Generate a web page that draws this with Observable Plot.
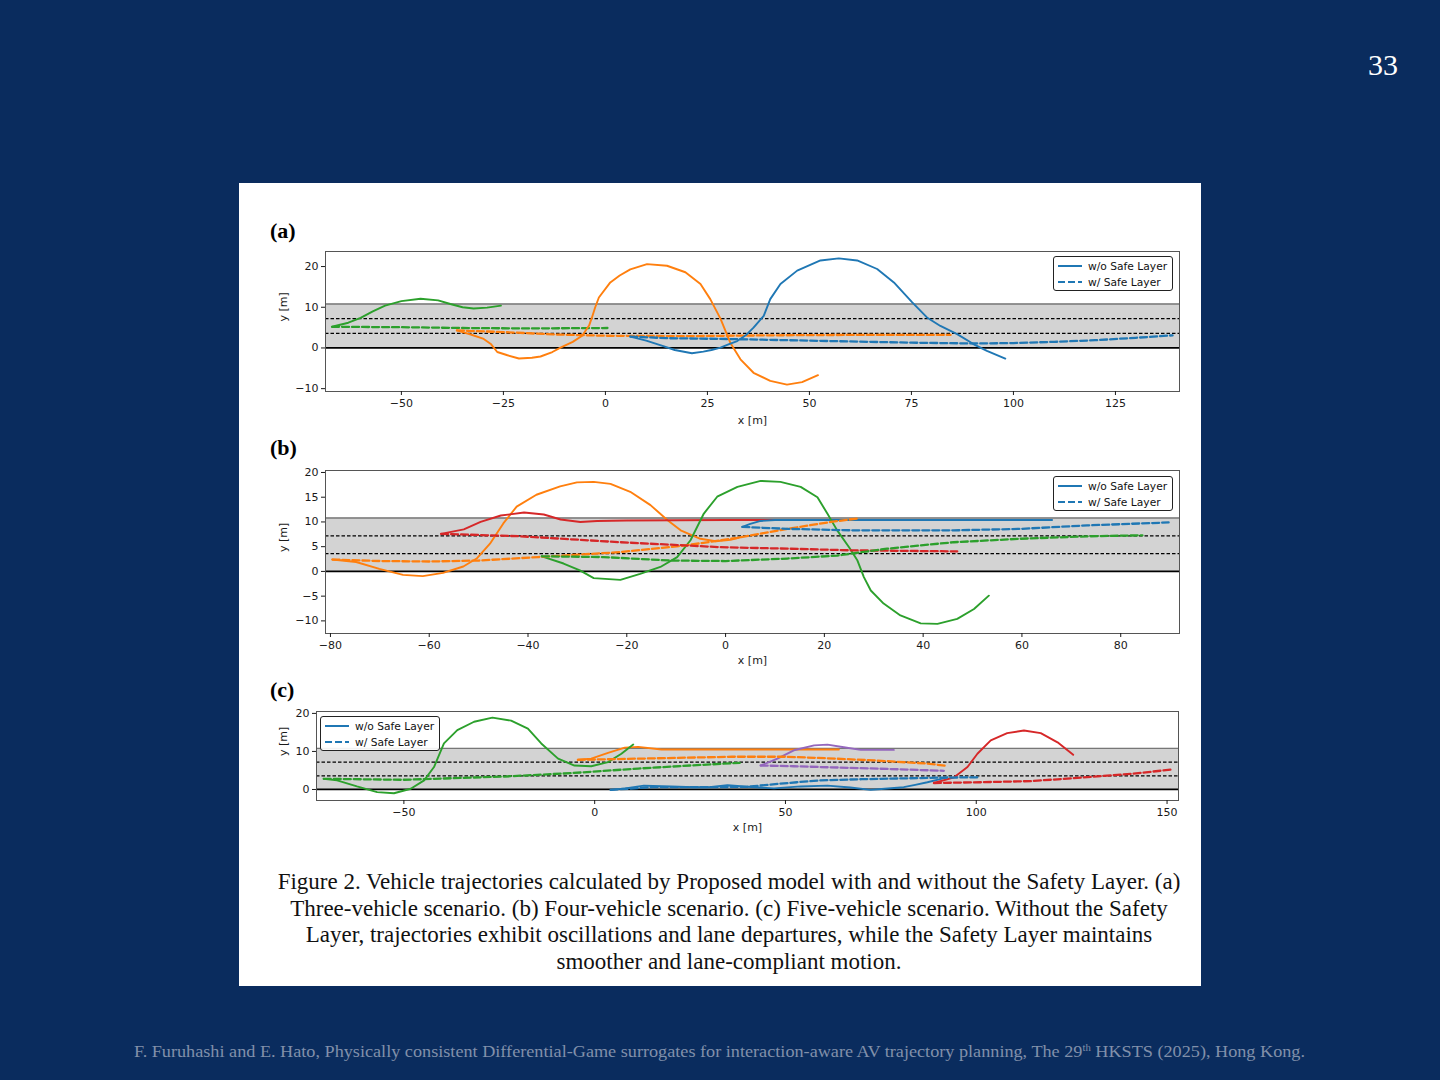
<!DOCTYPE html>
<html><head><meta charset="utf-8">
<script src="https://cdn.jsdelivr.net/npm/d3@7"></script>
<script src="https://cdn.jsdelivr.net/npm/@observablehq/plot@0.6"></script>
<style>
html,body{margin:0;padding:0;}
body{width:1440px;height:1080px;background:#0a2c5e;position:relative;overflow:hidden;font-family:"Liberation Serif","Times New Roman",serif;}
.abs{position:absolute;}
.plab{position:absolute;left:270px;font-weight:bold;font-size:22px;line-height:22px;color:#000;}
.legend{position:absolute;background:rgba(255,255,255,0.9);border:1px solid #222;border-radius:3px;box-sizing:border-box;font-family:"DejaVu Sans",sans-serif;font-size:10.7px;color:#111;}
.legend .row{position:absolute;left:0;height:14px;display:flex;align-items:center;white-space:nowrap;}
.legend svg{display:block;margin-left:4px;margin-right:6px;}
#caption{position:absolute;left:239px;top:869px;width:980px;font-size:23px;line-height:26.7px;text-align:center;color:#111;white-space:nowrap;}
</style></head><body>
<div class="abs" style="left:239px;top:183px;width:962px;height:803px;background:#fff"></div>
<div class="abs" style="left:1360px;top:47px;width:46px;text-align:center;font-size:30px;line-height:36px;color:#fff">33</div>
<div class="plab" style="top:220px">(a)</div>
<div class="plab" style="top:437px">(b)</div>
<div class="plab" style="top:679px">(c)</div>
<div id="pa" class="abs" style="left:270px;top:240px"></div>
<div id="pb" class="abs" style="left:270px;top:460px"></div>
<div id="pc" class="abs" style="left:270px;top:700px"></div>
<div id="caption">Figure 2. Vehicle trajectories calculated by Proposed model with and without the Safety Layer. (a)<br>Three-vehicle scenario. (b) Four-vehicle scenario. (c) Five-vehicle scenario. Without the Safety<br>Layer, trajectories exhibit oscillations and lane departures, while the Safety Layer maintains<br>smoother and lane-compliant motion.</div>
<svg class="abs" style="left:0;top:1038px" width="1440" height="28">
<text x="134" y="19" textLength="1171" lengthAdjust="spacingAndGlyphs" font-family="Liberation Serif, serif" font-size="17" fill="#8190aa">F. Furuhashi and E. Hato, Physically consistent  Differential-Game surrogates for interaction-aware AV trajectory planning, The 29<tspan font-size="10" dy="-6">th</tspan><tspan dy="6"> HKSTS (2025), Hong Kong.</tspan></text>
</svg>
<script>
// ---- colours (matplotlib tab10) ----
const C_BLUE = "#1f77b4", C_ORANGE = "#ff7f0e", C_GREEN = "#2ca02c", C_RED = "#d62728", C_PURPLE = "#9467bd";
// ---- lane boundaries [m] ----
const lanes = [0, 3.6, 7.2, 10.8];
const legendLabels = ["w/o Safe Layer", "w/ Safe Layer"];

// ---- panel (a): three vehicles ----
const aXTicks = [-50, -25, 0, 25, 50, 75, 100, 125];
const aYTicks = [-10, 0, 10, 20];
const aGreenSolid = [[-67,5.2],[-63,6.2],[-60,7.4],[-57,9],[-54,10.4],[-50,11.5],[-45.3,12.1],[-41,11.7],[-38,10.8],[-35,10],[-32.3,9.7],[-29,9.9],[-25.6,10.4]];
const aGreenDash = [[-67,5.2],[-50,5.1],[-35,4.9],[-20,4.8],[0.5,4.9]];
const aOrangeSolid = [[-36.4,4.3],[-33,3.3],[-30,2.3],[-28,0.9],[-26.5,-1.0],[-24,-1.8],[-21.2,-2.6],[-18,-2.4],[-15.9,-2.1],[-13,-1],[-11,0.1],[-8,1.5],[-5.7,3],[-4,5.5],[-3.3,7.5],[-2.5,10],[-1.6,12.4],[1.2,16.1],[3.5,17.8],[6.1,19.3],[10.2,20.6],[15.1,20.2],[19.6,18.6],[23.3,15.7],[25.7,12],[28.2,7.2],[30.6,1.3],[33.1,-2.8],[36.3,-6.1],[40.4,-8.1],[44.5,-9.0],[48.2,-8.4],[52.1,-6.7]];
const aOrangeDash = [[-36.4,4.3],[-25,3.9],[-12,3.3],[0,3.0],[20,2.9],[40,3.1],[60,3.2],[84.6,3.2]];
const aBlueSolid = [[6.1,2.8],[10,1.8],[14,0.5],[17,-0.5],[21.2,-1.3],[24,-0.9],[26,-0.5],[28.2,0.1],[30,0.8],[32.3,1.7],[34.5,3.2],[36.3,5],[38.8,7.9],[40.4,12],[42.9,15.7],[47,19],[52.7,21.5],[57.2,22],[61.7,21.5],[66.6,19.4],[70.7,16.1],[75.2,11.2],[78.8,7.5],[82.1,5.4],[86.2,3.4],[90.3,0.9],[93.5,-0.7],[98,-2.6]];
const aBlueDash = [[6.1,2.8],[15,2.4],[30,2.2],[45,1.9],[60,1.6],[75,1.3],[90,1.1],[100,1.2],[110,1.5],[120,1.9],[130,2.5],[139,3.1]];

// ---- panel (b): four vehicles ----
const bXTicks = [-80, -60, -40, -20, 0, 20, 40, 60, 80];
const bYTicks = [-10, -5, 0, 5, 10, 15, 20];
const bOrangeSolid = [[-79.6,2.4],[-74.8,1.9],[-70.1,0.5],[-65.3,-0.7],[-61.3,-0.95],[-57.2,-0.3],[-53.1,1.0],[-50.4,2.6],[-47.7,5.6],[-45,9.7],[-42.3,13.1],[-38.3,15.5],[-33.5,17.2],[-30.1,18.0],[-26.7,18.1],[-23.3,17.7],[-19.3,16.1],[-15.2,13.4],[-11.8,10.4],[-9.1,8.3],[-5.1,6.6],[-2,6.1],[1,6.4],[3,6.9]];
const bOrangeDash = [[-79.6,2.4],[-70,2.1],[-60,2.0],[-50,2.2],[-38,2.9],[-21.3,3.9],[-7.8,5.3],[2.4,6.8],[12.5,8.6],[21.3,10],[26.7,10.7]];
const bRedSolid = [[-57.6,7.6],[-53,8.5],[-49.6,10],[-45.5,11.3],[-40.8,11.9],[-36.8,11.5],[-33.4,10.5],[-29.4,10.0],[-26,10.2],[-20,10.3],[0,10.4],[27.3,10.4]];
const bRedDash = [[-57.6,7.6],[-41.5,7.1],[-21.3,5.9],[-1,4.9],[12.5,4.6],[26,4.25],[46.9,4.05]];
const bBlueSolid = [[3.4,9.0],[5,9.6],[7.1,10.2],[10,10.4],[30,10.4],[50,10.4],[66.1,10.4]];
const bBlueDash = [[3.4,9.0],[12.5,8.6],[26,8.3],[46.2,8.3],[59.7,8.6],[73.2,9.3],[89.7,9.9]];
const bGreenSolid = [[-37.2,3.05],[-32.8,1.6],[-29.5,0.2],[-26.7,-1.35],[-21.3,-1.7],[-17.3,-0.5],[-13.2,0.9],[-9.8,2.9],[-7.1,6.3],[-4.4,11.7],[-1.7,15.1],[2.4,17.1],[7.1,18.3],[11.1,18.1],[15.2,17.1],[18.6,15.0],[20.6,11.7],[22.6,8.3],[25,4.9],[26.7,2.2],[28,-1.15],[29.4,-3.85],[32,-6.5],[35.4,-8.9],[39.5,-10.5],[42.9,-10.6],[46.9,-9.6],[50.3,-7.6],[53.3,-4.9]];
const bGreenDash = [[-37.2,3.05],[-24.7,2.9],[-11.2,2.2],[0,2.1],[12.5,2.6],[22.6,3.2],[32.7,4.6],[46.2,5.9],[59.7,6.6],[73.2,7.1],[84.4,7.3]];

// ---- panel (c): five vehicles ----
const cXTicks = [-50, 0, 50, 100, 150];
const cYTicks = [0, 10, 20];
const cGreenSolid = [[-71,2.8],[-67.5,2.4],[-62.3,0.8],[-57,-0.7],[-52.6,-1.0],[-48.2,0.2],[-44.7,2.4],[-42.1,5.9],[-39.5,12.1],[-36,15.6],[-31.6,17.8],[-26.8,18.9],[-21.9,18.1],[-17.5,16],[-14,12.1],[-9.6,8.1],[-5.3,6.3],[-0.9,6.1],[3.5,7.2],[7,9.4],[10.1,11.8]];
const cGreenDash = [[-71,2.8],[-50,2.55],[-23.7,3.4],[-6.1,4.3],[11.4,5.5],[25,6.3],[38,7.0]];
const cOrangeSolid = [[-4.4,7.8],[-0.9,8.1],[3.5,9.6],[7.9,11.0],[11.4,11.2],[17.5,10.5],[36,10.5],[64,10.5]];
const cOrangeDash = [[-4.4,7.8],[11.4,8.1],[36,8.6],[50,8.6],[61,8.2],[74,7.6],[87.2,6.8],[92.4,6.2]];
const cPurpleSolid = [[43.5,6.3],[47.9,8.1],[52.2,10.3],[57.5,11.6],[61,11.8],[65.3,11.1],[69.7,10.4],[78.4,10.4]];
const cPurpleDash = [[43.5,6.3],[52.2,6.1],[69.7,5.6],[80,5.3],[91.5,4.9]];
const cBlueSolid = [[4.2,-0.1],[8,0.3],[12.9,1.0],[20,0.8],[26,0.6],[30,0.6],[34.8,1.1],[40,0.7],[47,0.3],[54,0.8],[61,1.0],[67,0.5],[72.3,-0.1],[76,0.2],[81,0.6],[84,1.2],[87.2,1.9],[90,2.6],[92.4,3.2]];
const cBlueDash = [[4.2,-0.1],[15,0.6],[30,0.6],[40,0.7],[46.1,1.3],[53,1.9],[59.2,2.4],[70,2.7],[80,2.9],[90,3.1],[100.3,3.2]];
const cRedSolid = [[88.9,1.7],[94.2,3.2],[97.7,5.9],[100.3,9.4],[103.8,12.9],[108.1,14.8],[112.5,15.5],[116.9,14.8],[121.3,12.4],[125.4,9.1]];
const cRedDash = [[88.9,1.7],[101.2,1.9],[114.3,2.2],[127.4,3.1],[140.5,4.1],[150.9,5.2]];

const fmt = d => d < 0 ? "\u2212" + (-d) : String(d);

function panel(el, o) {
  const marks = [
    Plot.rect([0], {x1: o.xDomain[0], x2: o.xDomain[1], y1: lanes[0], y2: lanes[3], fill: "#d3d3d3"}),
    Plot.ruleY([lanes[1], lanes[2]], {stroke: "#000", strokeWidth: 1.2, strokeDasharray: "3.5,2"}),
    Plot.ruleY([lanes[3]], {stroke: "#777", strokeWidth: 1.3}),
    Plot.ruleY([lanes[0]], {stroke: "#000", strokeWidth: 1.8}),
    ...o.series.map(s => Plot.line(s.data, {
      x: d => d[0], y: d => d[1], stroke: s.color,
      strokeWidth: s.dash ? 2.3 : 1.9,
      strokeDasharray: s.dash ? "7,3" : null
    })),
    Plot.frame({stroke: "#555", strokeWidth: 1}),
    Plot.axisX({ticks: o.xTicks, tickFormat: fmt, tickSize: 4, tickPadding: 4, label: null}),
    Plot.axisY({ticks: o.yTicks, tickFormat: fmt, tickSize: 4, tickPadding: 3, label: null}),
    Plot.text(["x [m]"], {frameAnchor: "bottom", dy: o.xLabDy, text: d => d, lineAnchor: "middle", fontSize: 11}),
    Plot.text(["y [m]"], {frameAnchor: "left", dx: o.yLabDx, rotate: -90, text: d => d, lineAnchor: "middle", fontSize: 11})
  ];
  const svg = Plot.plot({
    width: 920, height: o.height,
    marginTop: o.mt, marginBottom: o.mb, marginLeft: o.ml, marginRight: o.mr,
    x: {domain: o.xDomain}, y: {domain: o.yDomain},
    style: {fontFamily: "DejaVu Sans, sans-serif", fontSize: "11px", color: "#1a1a1a", background: "transparent", overflow: "visible"},
    marks
  });
  svg.style.display = "block";
  document.getElementById(el).appendChild(svg);
}

panel("pa", {height: 190, mt: 11, mb: 39, ml: 55, mr: 11, xDomain: [-68.6, 140.7], yDomain: [-10.7, 23.7],
  xTicks: aXTicks, yTicks: aYTicks, xLabDy: 29, yLabDx: -42,
  series: [
    {data: aGreenDash, color: C_GREEN, dash: true}, {data: aOrangeDash, color: C_ORANGE, dash: true}, {data: aBlueDash, color: C_BLUE, dash: true},
    {data: aGreenSolid, color: C_GREEN}, {data: aOrangeSolid, color: C_ORANGE}, {data: aBlueSolid, color: C_BLUE}
  ]});
panel("pb", {height: 210, mt: 10, mb: 37, ml: 55, mr: 11, xDomain: [-81, 91.9], yDomain: [-12.55, 20.4],
  xTicks: bXTicks, yTicks: bYTicks, xLabDy: 27, yLabDx: -42,
  series: [
    {data: bOrangeSolid, color: C_ORANGE}, {data: bRedSolid, color: C_RED}, {data: bBlueSolid, color: C_BLUE}, {data: bGreenSolid, color: C_GREEN},
    {data: bOrangeDash, color: C_ORANGE, dash: true}, {data: bRedDash, color: C_RED, dash: true}, {data: bBlueDash, color: C_BLUE, dash: true}, {data: bGreenDash, color: C_GREEN, dash: true}
  ]});
panel("pc", {height: 140, mt: 11, mb: 40, ml: 46, mr: 12, xDomain: [-72.9, 153], yDomain: [-2.9, 20.5],
  xTicks: cXTicks, yTicks: cYTicks, xLabDy: 27, yLabDx: -33,
  series: [
    {data: cBlueSolid, color: C_BLUE}, {data: cOrangeSolid, color: C_ORANGE}, {data: cGreenSolid, color: C_GREEN}, {data: cRedSolid, color: C_RED}, {data: cPurpleSolid, color: C_PURPLE},
    {data: cBlueDash, color: C_BLUE, dash: true}, {data: cOrangeDash, color: C_ORANGE, dash: true}, {data: cGreenDash, color: C_GREEN, dash: true}, {data: cRedDash, color: C_RED, dash: true}, {data: cPurpleDash, color: C_PURPLE, dash: true}
  ]});

function legend(left, top) {
  const box = document.createElement("div");
  box.className = "legend";
  Object.assign(box.style, {left: left + "px", top: top + "px", width: "120px", height: "35px"});
  legendLabels.forEach((lab, i) => {
    const row = document.createElement("div");
    row.className = "row";
    row.style.top = (2 + i * 16) + "px";
    row.innerHTML = `<svg width="24" height="6"><line x1="0" x2="24" y1="3" y2="3" stroke="${C_BLUE}" stroke-width="2" ${i ? 'stroke-dasharray="7,3"' : ''}/></svg><span>${lab}</span>`;
    box.appendChild(row);
  });
  document.body.appendChild(box);
}
legend(1053, 256);
legend(1053, 476);
legend(320, 716);
</script>
</body></html>
